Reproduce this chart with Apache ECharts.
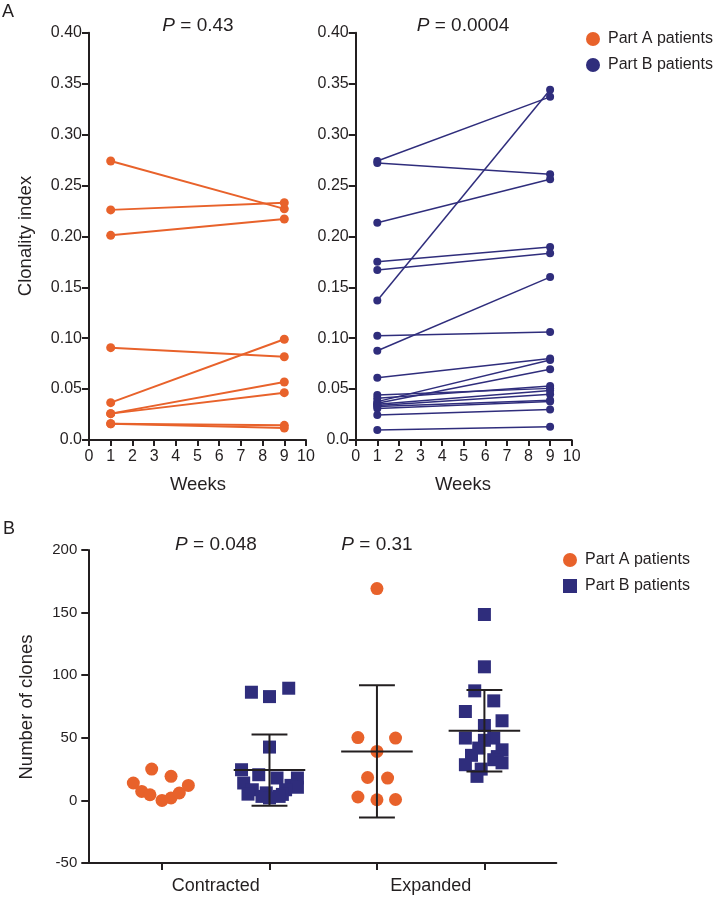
<!DOCTYPE html>
<html><head><meta charset="utf-8">
<script src="https://cdn.jsdelivr.net/npm/echarts@6/dist/echarts.min.js"></script>
<style>html,body{margin:0;padding:0;background:#fff}#c{width:714px;height:899px}</style>
</head><body><div id="c"></div>
<script>
// ---------- Data ----------
const weeks = [1, 9];
const partA_week1 = [0.274, 0.226, 0.201, 0.0907, 0.0367, 0.0259, 0.0259, 0.016, 0.016];
const partA_week9 = [0.227, 0.233, 0.217, 0.0818, 0.0989, 0.0570, 0.0465, 0.0144, 0.0118];
const partB_week1 = [0.274, 0.272, 0.2134, 0.175, 0.167, 0.137, 0.1025, 0.0877, 0.0612, 0.0377, 0.036, 0.0442, 0.041, 0.035, 0.034, 0.033, 0.031, 0.0246, 0.0098];
const partB_week9 = [0.337, 0.261, 0.256, 0.1895, 0.1833, 0.344, 0.106, 0.160, 0.080, 0.0786, 0.0694, 0.0507, 0.053, 0.0485, 0.045, 0.039, 0.0377, 0.030, 0.0131];

const groupLabels = ['Contracted', 'Expanded'];
const groupPos = [1, 2, 3, 4]; // A-contracted, B-contracted, A-expanded, B-expanded
const contractedA = [13.9, 25, 7.2, 4.5, 0, 1.9, 5.9, 12, 19.2];
const contractedA_jitter = [-0.267, -0.096, -0.189, -0.112, 0.0, 0.084, 0.161, 0.245, 0.084];
const contractedB = [89.6, 86.4, 82.9, 42.6, 24.5, 20.5, 17.9, 17.9, 13.9, 12, 10.5, 8.5, 8.5, 6, 5, 4.8, 3.2, 3.2, 2];
const contractedB_jitter = [0.179, -0.168, 0, 0, -0.26, -0.1, 0.07, 0.26, -0.24, 0.2, 0.26, -0.16, 0.15, -0.03, -0.2, 0.12, -0.07, 0.09, 0];
const expandedA = [169.2, 50.2, 49.8, 39.1, 18.3, 17.8, 2.7, 0.7, 0.5];
const expandedA_jitter = [0, -0.177, 0.173, 0, -0.087, 0.099, -0.177, 0.173, 0];
const expandedB = [148.5, 106.7, 87.5, 79.5, 71, 63.6, 59.8, 49.8, 49.8, 48, 41.8, 40.4, 36, 35, 32.5, 30, 28.5, 25, 19.2];
const expandedB_jitter = [0, 0, -0.09, 0.087, -0.177, 0.164, 0, -0.177, 0.087, 0, -0.053, 0.164, -0.12, 0.12, 0.087, 0.164, -0.177, -0.03, -0.069];
const errPos = [2, 3, 4];
const errMean = [24.2, 39.1, 55.6];
const errSD = [28.5, 52.8, 32.6];

const yTicksA = [0, 0.05, 0.10, 0.15, 0.20, 0.25, 0.30, 0.35, 0.40];
const yTicksB = [-50, 0, 50, 100, 150, 200];

// ---------- Style ----------
const ORANGE = '#E8622B';
const NAVY = '#2F2D7C';
const INK = '#231F20';
const FONT = 'Liberation Sans, Arial, Helvetica, sans-serif';

const chart = echarts.init(document.getElementById('c'));

function axisA(grid) {
  return {
    type: 'value', gridIndex: grid, min: 0, max: 10, interval: 1,
    axisLine: { onZero: false, lineStyle: { color: INK, width: 2 } },
    axisTick: { length: 6, lineStyle: { color: INK, width: 2 } },
    axisLabel: { color: INK, fontSize: 16, fontFamily: FONT, margin: 9 },
    splitLine: { show: false }
  };
}
function yAxisA(grid) {
  return {
    type: 'value', gridIndex: grid, min: yTicksA[0], max: yTicksA[yTicksA.length - 1], interval: 0.05,
    axisLine: { show: true, onZero: false, lineStyle: { color: INK, width: 2 } },
    axisTick: { show: true, length: 7, lineStyle: { color: INK, width: 2 } },
    axisLabel: { color: INK, fontSize: 16, fontFamily: FONT, margin: 7,
      formatter: v => v === 0 ? '0.0' : v.toFixed(2) },
    splitLine: { show: false }
  };
}

const series = [];
partA_week1.forEach((v, i) => {
  series.push({
    type: 'line', name: 'Part A patients', xAxisIndex: 0, yAxisIndex: 0,
    data: [[weeks[0], v], [weeks[1], partA_week9[i]]],
    symbol: 'circle', symbolSize: 9, showAllSymbol: true,
    lineStyle: { color: ORANGE, width: 2 }, itemStyle: { color: ORANGE },
    silent: true, animation: false, z: 3
  });
});
partB_week1.forEach((v, i) => {
  series.push({
    type: 'line', name: 'Part B patients', xAxisIndex: 1, yAxisIndex: 1,
    data: [[weeks[0], v], [weeks[1], partB_week9[i]]],
    symbol: 'circle', symbolSize: 8, showAllSymbol: true,
    lineStyle: { color: NAVY, width: 1.5 }, itemStyle: { color: NAVY },
    silent: true, animation: false, z: 3
  });
});
function scatter(name, pos, vals, jit, symbol, color) {
  return {
    type: 'scatter', name, xAxisIndex: 2, yAxisIndex: 2,
    data: vals.map((v, i) => [pos + jit[i], v]),
    symbol, symbolSize: 13, itemStyle: { color, opacity: 1 },
    silent: true, animation: false, z: 3
  };
}
series.push(scatter('Part A patients', groupPos[0], contractedA, contractedA_jitter, 'circle', ORANGE));
series.push(scatter('Part B patients', groupPos[1], contractedB, contractedB_jitter, 'rect', NAVY));
series.push(scatter('Part A patients', groupPos[2], expandedA, expandedA_jitter, 'circle', ORANGE));
series.push(scatter('Part B patients', groupPos[3], expandedB, expandedB_jitter, 'rect', NAVY));
series.push({
  type: 'custom', xAxisIndex: 2, yAxisIndex: 2, silent: true, animation: false, z: 5,
  data: errPos.map((p, i) => [p, errMean[i], errSD[i]]),
  encode: { x: 0, y: 1 },
  renderItem: (params, api) => {
    const x = api.value(0), m = api.value(1), s = api.value(2);
    const line = (a, b) => ({ type: 'line', shape: { x1: a[0], y1: a[1], x2: b[0], y2: b[1] },
      style: { stroke: INK, lineWidth: 2 } });
    return { type: 'group', children: [
      line(api.coord([x, m - s]), api.coord([x, m + s])),
      line(api.coord([x - 0.167, m + s]), api.coord([x + 0.167, m + s])),
      line(api.coord([x - 0.167, m - s]), api.coord([x + 0.167, m - s])),
      line(api.coord([x - 0.333, m]), api.coord([x + 0.333, m]))
    ]};
  }
});

const option = {
  backgroundColor: '#fff',
  animation: false,
  textStyle: { fontFamily: FONT },
  grid: [
    { left: 89, top: 32.7, width: 217, height: 407.3 },
    { left: 355.7, top: 32.7, width: 216, height: 407.3 },
    { left: 88.3, top: 550, width: 468, height: 313 }
  ],
  xAxis: [
    axisA(0), axisA(1),
    { type: 'value', gridIndex: 2, min: 0.314, max: 4.669,
      axisLine: { onZero: false, lineStyle: { color: INK, width: 2 } },
      axisTick: { show: true, length: 7, customValues: groupPos, lineStyle: { color: INK, width: 2 } },
      axisLabel: { color: INK, fontSize: 18, fontFamily: FONT, margin: 14, customValues: [1.5, 3.5],
        formatter: v => v < 2.5 ? groupLabels[0] : groupLabels[1] },
      splitLine: { show: false } }
  ],
  yAxis: [
    yAxisA(0), yAxisA(1),
    { type: 'value', gridIndex: 2, min: yTicksB[0], max: yTicksB[yTicksB.length - 1], interval: 50,
      axisLine: { show: true, onZero: false, lineStyle: { color: INK, width: 2 } },
      axisTick: { show: true, length: 7, lineStyle: { color: INK, width: 2 } },
      axisLabel: { color: INK, fontSize: 15, fontFamily: FONT, margin: 11 },
      splitLine: { show: false } }
  ],
  legend: [
    { orient: 'vertical', left: 586, top: 31, padding: 0, itemWidth: 14, itemHeight: 14, itemGap: 10,
      selectedMode: false,
      data: [{ name: 'Part A patients', icon: 'circle' }, { name: 'Part B patients', icon: 'circle' }],
      textStyle: { color: INK, fontSize: 16, fontFamily: FONT, padding: [0, 0, 0, 3] } },
    { orient: 'vertical', left: 563, top: 552, padding: 0, itemWidth: 14, itemHeight: 14, itemGap: 10,
      selectedMode: false,
      data: [{ name: 'Part A patients', icon: 'circle' }, { name: 'Part B patients', icon: 'rect' }],
      textStyle: { color: INK, fontSize: 16, fontFamily: FONT, padding: [0, 0, 0, 3] } }
  ],
  graphic: [
    { type: 'text', x: 2, y: 12, style: { text: 'A', font: '18px ' + FONT, fill: INK, verticalAlign: 'middle' } },
    { type: 'text', x: 3, y: 529, style: { text: 'B', font: '18px ' + FONT, fill: INK, verticalAlign: 'middle' } },
    { type: 'text', x: 198, y: 26, style: { text: '{i|P} = 0.43', font: '19px ' + FONT, fill: INK, align: 'center', verticalAlign: 'middle', rich: { i: { fontStyle: 'italic', fontSize: 19, fontFamily: FONT } } } },
    { type: 'text', x: 463, y: 26, style: { text: '{i|P} = 0.0004', font: '19px ' + FONT, fill: INK, align: 'center', verticalAlign: 'middle', rich: { i: { fontStyle: 'italic', fontSize: 19, fontFamily: FONT } } } },
    { type: 'text', x: 216, y: 545, style: { text: '{i|P} = 0.048', font: '19px ' + FONT, fill: INK, align: 'center', verticalAlign: 'middle', rich: { i: { fontStyle: 'italic', fontSize: 19, fontFamily: FONT } } } },
    { type: 'text', x: 377, y: 545, style: { text: '{i|P} = 0.31', font: '19px ' + FONT, fill: INK, align: 'center', verticalAlign: 'middle', rich: { i: { fontStyle: 'italic', fontSize: 19, fontFamily: FONT } } } },
    { type: 'text', x: 26, y: 236, rotation: Math.PI / 2, style: { text: 'Clonality index', font: '18.5px ' + FONT, fill: INK, align: 'center', verticalAlign: 'middle' } },
    { type: 'text', x: 27, y: 707, rotation: Math.PI / 2, style: { text: 'Number of clones', font: '18.5px ' + FONT, fill: INK, align: 'center', verticalAlign: 'middle' } },
    { type: 'text', x: 198, y: 485, style: { text: 'Weeks', font: '18.5px ' + FONT, fill: INK, align: 'center', verticalAlign: 'middle' } },
    { type: 'text', x: 463, y: 485, style: { text: 'Weeks', font: '18.5px ' + FONT, fill: INK, align: 'center', verticalAlign: 'middle' } }
  ],
  series
};
chart.setOption(option);
</script>
</body></html>
